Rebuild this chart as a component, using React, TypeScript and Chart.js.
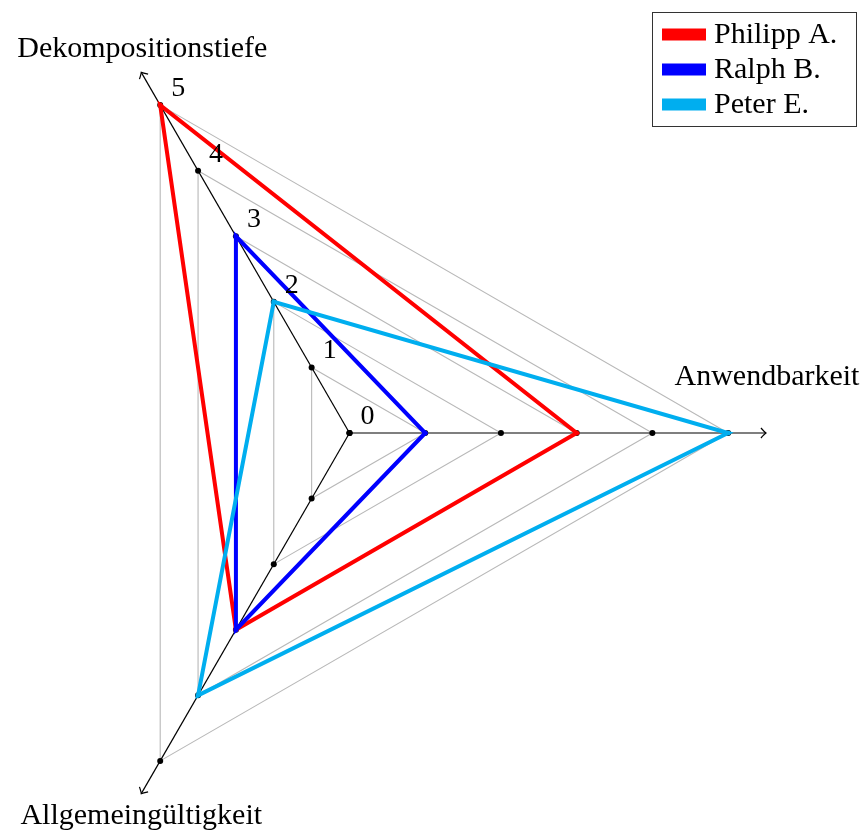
import React, { useEffect, useRef } from 'react';
import { Chart, registerables } from 'chart.js';

Chart.register(...registerables);

// ---- data ----
const axisLabels = ['Anwendbarkeit', 'Allgemeingültigkeit', 'Dekompositionstiefe'];
const seriesNames = ['Philipp A.', 'Ralph B.', 'Peter E.'];
const philippValues = [3, 3, 5];
const ralphValues = [1, 3, 3];
const peterValues = [5, 4, 2];
const tickValues = [0, 1, 2, 3, 4, 5];
const seriesColors = ['#ff0000', '#0000ff', '#00aeef'];

const FONT = '"Liberation Serif", "Times New Roman", serif';
const AXIS_END = 5.5;
const TICK_AXIS = 'Dekompositionstiefe';

// label placement relative to the arrow tip [dx, dyBaseline]
const labelOffsets: Record<string, [number, number]> = {
  Anwendbarkeit: [1, -48],
  'Allgemeingültigkeit': [0, 30],
  Dekompositionstiefe: [1, -15],
};

const decorPlugin = {
  id: 'decor',
  beforeDatasetsDraw(chart: any) {
    const r = chart.scales.r;
    const ctx = chart.ctx as CanvasRenderingContext2D;
    ctx.save();
    const n = chart.data.labels.length;
    for (let i = 0; i < n; i++) {
      const p0 = r.getPointPositionForValue(i, 0);
      const p1 = r.getPointPositionForValue(i, AXIS_END);
      ctx.strokeStyle = '#000';
      ctx.lineWidth = 1.2;
      ctx.beginPath();
      ctx.moveTo(p0.x, p0.y);
      ctx.lineTo(p1.x, p1.y);
      ctx.stroke();
      // arrow head
      const ang = Math.atan2(p1.y - p0.y, p1.x - p0.x);
      const dx = Math.cos(ang), dy = Math.sin(ang);
      const px = -dy, py = dx;
      const L = 5, W = 5;
      ctx.beginPath();
      ctx.moveTo(p1.x - L * dx + W * px, p1.y - L * dy + W * py);
      ctx.quadraticCurveTo(p1.x - 1.5 * dx + 1 * px, p1.y - 1.5 * dy + 1 * py, p1.x, p1.y);
      ctx.quadraticCurveTo(p1.x - 1.5 * dx - 1 * px, p1.y - 1.5 * dy - 1 * py, p1.x - L * dx - W * px, p1.y - L * dy - W * py);
      ctx.stroke();
      // tick dots
      ctx.fillStyle = '#000';
      tickValues.forEach((v) => {
        const p = r.getPointPositionForValue(i, v);
        ctx.beginPath();
        ctx.arc(p.x, p.y, 3, 0, Math.PI * 2);
        ctx.fill();
      });
    }
    ctx.restore();
  },
  afterDraw(chart: any) {
    const r = chart.scales.r;
    const ctx = chart.ctx as CanvasRenderingContext2D;
    ctx.save();
    ctx.fillStyle = '#000';
    ctx.textAlign = 'center';
    ctx.textBaseline = 'alphabetic';
    // axis labels
    ctx.font = `30px ${FONT}`;
    axisLabels.forEach((lab, i) => {
      const p = r.getPointPositionForValue(i, AXIS_END);
      const off = labelOffsets[lab];
      ctx.fillText(lab, p.x + off[0], p.y + off[1]);
    });
    // tick labels
    const ti = axisLabels.indexOf(TICK_AXIS);
    ctx.font = `28px ${FONT}`;
    tickValues.forEach((v) => {
      const p = r.getPointPositionForValue(ti, v);
      ctx.fillText(String(v), p.x + 18, p.y - 9);
    });
    // legend
    const bx = 652.5, by = 12.5, bw = 204, bh = 114;
    ctx.fillStyle = '#fff';
    ctx.fillRect(bx, by, bw, bh);
    ctx.strokeStyle = '#333';
    ctx.lineWidth = 1;
    ctx.strokeRect(bx, by, bw, bh);
    ctx.textAlign = 'left';
    ctx.font = `30px ${FONT}`;
    seriesNames.forEach((name, k) => {
      const cy = 34.5 + k * 35;
      ctx.fillStyle = seriesColors[k];
      ctx.fillRect(662, cy - 6, 44, 12);
      ctx.fillStyle = '#000';
      ctx.fillText(name, 714, cy + 8);
    });
    ctx.restore();
  },
};

export default function App() {
  const canvasRef = useRef<HTMLCanvasElement | null>(null);

  useEffect(() => {
    document.body.style.margin = '0';
    const canvas = canvasRef.current;
    if (!canvas) return;
    const seriesValues = [philippValues, ralphValues, peterValues];
    const chart = new Chart(canvas, {
      type: 'radar',
      data: {
        labels: axisLabels,
        datasets: seriesNames.map((name, k) => ({
          label: name,
          data: seriesValues[k],
          borderColor: seriesColors[k],
          backgroundColor: seriesColors[k],
          borderWidth: 4,
          borderJoinStyle: 'miter' as const,
          fill: false,
          pointRadius: 2.5,
          pointBorderWidth: 0,
          pointBackgroundColor: seriesColors[k],
          order: seriesNames.length - k,
        })),
      },
      options: {
        responsive: false,
        animation: false,
        devicePixelRatio: 1,
        plugins: {
          legend: { display: false },
          tooltip: { enabled: false },
        },
        scales: {
          r: {
            min: 0,
            max: 5,
            startAngle: 90,
            ticks: { display: false, stepSize: 1 },
            grid: { color: '#b8b8b8', lineWidth: 1.1, circular: false },
            angleLines: { display: false },
            pointLabels: { display: false },
            afterFit: (s: any) => {
              s.xCenter = 349.5;
              s.yCenter = 433;
              s.drawingArea = 378.6;
            },
          },
        },
      },
      plugins: [decorPlugin],
    } as any);
    return () => chart.destroy();
  }, []);

  return (
    <canvas
      ref={canvasRef}
      width={862}
      height={830}
      style={{ display: 'block', width: 862, height: 830 }}
    />
  );
}
